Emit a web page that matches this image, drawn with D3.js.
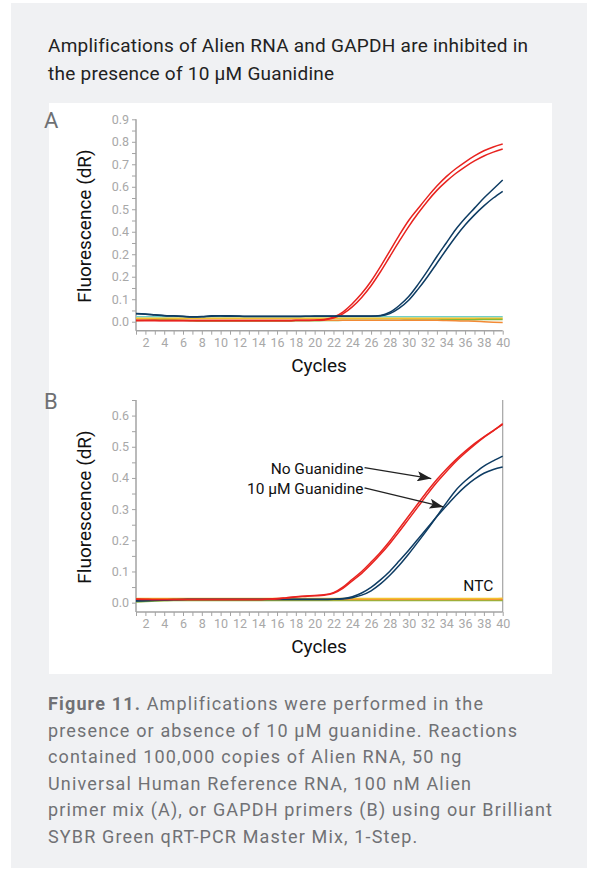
<!DOCTYPE html>
<html>
<head>
<meta charset="utf-8">
<script src="https://cdn.jsdelivr.net/npm/d3@7"></script>
<style>
  body { margin: 0; background: #fff; }
  svg { display: block; font-family: Roboto, "Open Sans", sans-serif; }
</style>
</head>
<body>
<svg id="fig" width="589" height="869"></svg>
<script>
// cycles 1..40
var cycles = d3.range(1, 41);
var xTickLabels = ["2","4","6","8","10","12","14","16","18","20","22","24","26","28","30","32","34","36","38","40"];

// panel A (Alien RNA)
var yTicksA = [0, 0.1, 0.2, 0.3, 0.4, 0.5, 0.6, 0.7, 0.8, 0.9];
var yLabelsA = ["0.0","0.1","0.2","0.2","0.4","0.5","0.6","0.7","0.8","0.9"];
var redA1 = [0.006,0.006,0.006,0.005,0.005,0.005,0.005,0.005,0.005,0.005,
  0.005,0.005,0.005,0.005,0.005,0.005,0.005,0.006,0.006,0.007,
  0.010,0.020,0.043,0.080,0.125,0.180,0.245,0.315,0.385,0.450,
  0.503,0.555,0.603,0.645,0.680,0.710,0.737,0.760,0.777,0.790];
var redA2 = [0.004,0.004,0.004,0.004,0.004,0.004,0.004,0.004,0.004,0.004,
  0.004,0.004,0.004,0.004,0.004,0.004,0.004,0.005,0.005,0.006,
  0.008,0.016,0.035,0.066,0.108,0.160,0.222,0.290,0.358,0.423,
  0.482,0.536,0.584,0.624,0.659,0.689,0.715,0.737,0.754,0.768];
var blueA1 = [0.036,0.034,0.031,0.028,0.026,0.024,0.022,0.023,0.026,0.027,
  0.026,0.025,0.024,0.024,0.024,0.024,0.024,0.024,0.024,0.025,
  0.025,0.025,0.025,0.025,0.025,0.025,0.028,0.042,0.072,0.112,
  0.166,0.226,0.290,0.350,0.410,0.460,0.505,0.550,0.590,0.630];
var blueA2 = [0.035,0.033,0.030,0.027,0.025,0.023,0.021,0.022,0.024,0.025,
  0.024,0.024,0.023,0.023,0.023,0.023,0.023,0.023,0.024,0.024,
  0.024,0.024,0.024,0.024,0.024,0.024,0.026,0.036,0.060,0.095,
  0.145,0.200,0.260,0.320,0.378,0.430,0.475,0.515,0.550,0.580];
var tealA = [0.022,0.022,0.022,0.022,0.022,0.022,0.022,0.022,0.022,0.022,
  0.022,0.022,0.022,0.022,0.022,0.022,0.022,0.022,0.022,0.022,
  0.022,0.022,0.022,0.022,0.022,0.022,0.022,0.022,0.022,0.022,
  0.022,0.022,0.022,0.022,0.022,0.022,0.022,0.022,0.022,0.022];
var yellowA = [0.015,0.015,0.015,0.015,0.015,0.015,0.015,0.015,0.015,0.015,
  0.015,0.015,0.015,0.015,0.015,0.015,0.015,0.015,0.015,0.015,
  0.015,0.015,0.015,0.015,0.015,0.015,0.015,0.015,0.015,0.015,
  0.015,0.015,0.015,0.015,0.015,0.015,0.015,0.015,0.015,0.015];
var greenA = [0.005,0.007,0.009,0.010,0.009,0.007,0.004,0.003,0.003,0.003,
  0.003,0.003,0.003,0.003,0.003,0.003,0.003,0.004,0.004,0.004,
  0.005,0.005,0.006,0.006,0.006,0.007,0.007,0.007,0.007,0.008,
  0.008,0.008,0.008,0.009,0.009,0.009,0.009,0.010,0.010,0.010];
var orangeA = [0.006,0.006,0.006,0.006,0.006,0.006,0.006,0.006,0.006,0.006,
  0.006,0.006,0.006,0.006,0.006,0.006,0.006,0.006,0.006,0.006,
  0.006,0.006,0.006,0.006,0.006,0.006,0.006,0.006,0.006,0.006,
  0.006,0.006,0.006,0.005,0.004,0.003,0.002,0.000,-0.002,-0.004];

// panel B (GAPDH)
var yTicksB = [0, 0.1, 0.2, 0.3, 0.4, 0.5, 0.6];
var yLabelsB = ["0.0","0.1","0.2","0.3","0.4","0.5","0.6"];
var redB1 = [0.012,0.011,0.010,0.010,0.010,0.010,0.010,0.010,0.010,0.010,
  0.010,0.010,0.010,0.010,0.011,0.013,0.016,0.019,0.021,0.023,
  0.025,0.032,0.050,0.075,0.100,0.130,0.162,0.198,0.238,0.278,
  0.318,0.358,0.395,0.428,0.458,0.485,0.510,0.532,0.552,0.572];
var redB2 = [0.011,0.010,0.010,0.010,0.010,0.010,0.010,0.010,0.010,0.010,
  0.010,0.010,0.010,0.010,0.011,0.012,0.015,0.018,0.020,0.022,
  0.024,0.030,0.046,0.070,0.094,0.123,0.155,0.190,0.228,0.268,
  0.308,0.348,0.386,0.420,0.452,0.480,0.506,0.530,0.551,0.574];
var blueB1 = [0.006,0.007,0.008,0.009,0.010,0.010,0.011,0.011,0.011,0.011,
  0.011,0.011,0.011,0.011,0.011,0.011,0.011,0.011,0.011,0.011,
  0.011,0.011,0.012,0.016,0.024,0.038,0.060,0.088,0.120,0.156,
  0.195,0.235,0.277,0.320,0.360,0.390,0.415,0.438,0.455,0.470];
var blueB2 = [0.005,0.006,0.007,0.008,0.009,0.010,0.010,0.010,0.010,0.010,
  0.010,0.010,0.010,0.010,0.010,0.010,0.010,0.010,0.010,0.010,
  0.010,0.011,0.013,0.019,0.031,0.049,0.073,0.101,0.134,0.168,
  0.204,0.240,0.276,0.310,0.343,0.372,0.396,0.415,0.427,0.435];
var yellowB = [0.013,0.013,0.013,0.013,0.013,0.013,0.013,0.013,0.013,0.013,
  0.013,0.013,0.013,0.013,0.013,0.013,0.013,0.013,0.013,0.013,
  0.013,0.013,0.013,0.013,0.013,0.013,0.013,0.013,0.013,0.013,
  0.013,0.013,0.013,0.013,0.013,0.013,0.013,0.013,0.013,0.014];
var orangeB = [0.010,0.010,0.010,0.010,0.010,0.010,0.010,0.010,0.010,0.010,
  0.010,0.010,0.010,0.010,0.010,0.010,0.010,0.010,0.010,0.010,
  0.010,0.010,0.010,0.010,0.010,0.010,0.010,0.010,0.010,0.010,
  0.010,0.010,0.010,0.010,0.010,0.010,0.010,0.010,0.010,0.010];
var greenB = [0.002,0.004,0.005,0.006,0.007,0.007,0.007,0.007,0.007,0.007,
  0.007,0.007,0.007,0.007,0.007,0.007,0.007,0.007,0.007,0.007,
  0.007,0.007,0.007,0.007,0.007,0.007,0.007,0.007,0.007,0.007,
  0.007,0.007,0.007,0.007,0.007,0.007,0.007,0.007,0.007,0.007];

// annotations in panel B, in data units (cycle, dR)
var notes = [
  { text: "No Guanidine", tx: 25.2, ty: 0.414, ax: 32.4, ay: 0.398 },
  { text: "10 \u00b5M Guanidine", tx: 25.2, ty: 0.349, ax: 33.7, ay: 0.307 }
];

var titleLines = ["Amplifications of Alien RNA and GAPDH are inhibited in",
  "the presence of 10 \u00b5M Guanidine"];
var captionLines = [
  ["Figure 11.", " Amplifications were performed in the"],
  ["", "presence or absence of 10 \u00b5M guanidine. Reactions"],
  ["", "contained 100,000 copies of Alien RNA, 50 ng"],
  ["", "Universal Human Reference RNA, 100 nM Alien"],
  ["", "primer mix (A), or GAPDH primers (B) using our Brilliant"],
  ["", "SYBR Green qRT-PCR Master Mix, 1-Step."]
];

var svg = d3.select("#fig");
var RED = "#e8231f", BLUE = "#0e3c63", TEAL = "#6fd0c8", YEL = "#f2c12e", GRN = "#86b83b", ORG = "#f28a35";
var AX = "#a3a3a3", TICKTXT = "#a8a8a8";

svg.append("rect").attr("x", 11).attr("y", 3).attr("width", 576).attr("height", 865).attr("fill", "#f0f1f3");
svg.append("rect").attr("x", 49).attr("y", 103).attr("width", 503).attr("height", 571).attr("fill", "#fff");

titleLines.forEach(function(t, i) {
  svg.append("text").attr("x", 48).attr("y", 52 + i * 28).attr("font-size", 19)
    .attr("letter-spacing", 0.25).attr("fill", "#222").text(t);
});

var cap = svg.append("g").attr("font-size", 18).attr("letter-spacing", 1.15).attr("fill", "#707175");
captionLines.forEach(function(l, i) {
  var t = cap.append("text").attr("x", 48).attr("y", 710 + i * 26.6);
  if (l[0]) t.append("tspan").attr("font-weight", "bold").text(l[0]);
  t.append("tspan").text(l[1]);
});

function panel(opt) {
  var x = d3.scaleLinear().domain([1, 40]).range([136, 502.7]);
  var y = d3.scaleLinear().domain(opt.yDomain).range(opt.yRange);
  var g = svg.append("g");

  g.append("text").attr("x", 44).attr("y", opt.yRange[1] + 9).attr("font-size", 22)
    .attr("fill", "#6e7073").text(opt.letter);

  // y axis: minor ticks every 0.05, labels on major
  var minor = d3.range(0, opt.yDomain[1] + 0.001, 0.05);
  var yAx = d3.axisLeft(y).tickValues(minor).tickSize(4).tickPadding(3)
    .tickFormat(function(d) {
      var i = opt.yTicks.findIndex(function(t) { return Math.abs(t - d) < 1e-6; });
      return i >= 0 ? opt.yLabels[i] : "";
    });
  var ya = g.append("g").attr("transform", "translate(136,0)").call(yAx);
  ya.select(".domain").remove();
  ya.selectAll(".tick line").attr("stroke", AX);
  ya.selectAll(".tick text").attr("fill", TICKTXT).attr("font-size", 12.5).attr("font-family", "Roboto");
  g.append("line").attr("x1", 136).attr("x2", 136).attr("y1", opt.yRange[1]).attr("y2", opt.yRange[0])
    .attr("stroke", AX).attr("stroke-width", 1.5);
  if (opt.topTick) {
    g.append("line").attr("x1", 132).attr("x2", 136).attr("y1", opt.yRange[1] + 0.5).attr("y2", opt.yRange[1] + 0.5)
      .attr("stroke", AX);
  }

  // x axis
  var xAx = d3.axisBottom(x).tickValues(cycles).tickSize(4).tickPadding(3)
    .tickFormat(function(d) { return xTickLabels.indexOf(String(d)) >= 0 ? String(d) : ""; });
  var xa = g.append("g").attr("transform", "translate(0," + opt.yRange[0] + ")").call(xAx);
  xa.select(".domain").remove();
  xa.selectAll(".tick line").attr("stroke", AX);
  xa.selectAll(".tick text").attr("fill", TICKTXT).attr("font-size", 12.5).attr("font-family", "Roboto");
  g.append("line").attr("x1", 136).attr("x2", 502.7).attr("y1", opt.yRange[0]).attr("y2", opt.yRange[0])
    .attr("stroke", AX).attr("stroke-width", 1.5);
  if (opt.rightBorder) {
    g.append("line").attr("x1", 502.7).attr("x2", 502.7).attr("y1", opt.yRange[1]).attr("y2", opt.yRange[0])
      .attr("stroke", AX).attr("stroke-width", 1.2);
  }

  g.append("text").attr("x", 319).attr("y", opt.yRange[0] + 41).attr("text-anchor", "middle")
    .attr("font-size", 19).attr("fill", "#111").text("Cycles");
  g.append("text").attr("transform", "translate(91," + opt.yMid + ") rotate(-90)")
    .attr("text-anchor", "middle").attr("font-size", 19).attr("fill", "#111").text("Fluorescence (dR)");

  var line = d3.line().x(function(d, i) { return x(cycles[i]); }).y(function(d) { return y(d); })
    .curve(d3.curveMonotoneX);
  opt.series.forEach(function(s) {
    g.append("path").attr("d", line(s.v)).attr("fill", "none").attr("stroke", s.c)
      .attr("stroke-width", s.w || 1.5);
  });
  return { g: g, x: x, y: y };
}

panel({
  letter: "A", yDomain: [-0.04, 0.9], yRange: [330.7, 119.3], yMid: 226,
  yTicks: yTicksA, yLabels: yLabelsA, topTick: false, rightBorder: false,
  series: [
    { v: tealA, c: TEAL }, { v: yellowA, c: YEL }, { v: greenA, c: GRN }, { v: orangeA, c: ORG },
    { v: redA1, c: RED }, { v: redA2, c: RED },
    { v: blueA1, c: BLUE }, { v: blueA2, c: BLUE }
  ]
});

var pB = panel({
  letter: "B", yDomain: [-0.03, 0.65], yRange: [612, 400], yMid: 507,
  yTicks: yTicksB, yLabels: yLabelsB, topTick: true, rightBorder: true,
  series: [
    { v: greenB, c: GRN }, { v: orangeB, c: ORG }, { v: yellowB, c: YEL },
    { v: blueB1, c: BLUE }, { v: blueB2, c: BLUE },
    { v: redB1, c: RED }, { v: redB2, c: RED }
  ]
});

var defs = svg.append("defs");
defs.append("marker").attr("id", "arr").attr("viewBox", "0 0 14 10").attr("refX", 14).attr("refY", 5)
  .attr("markerWidth", 14).attr("markerHeight", 10).attr("markerUnits", "userSpaceOnUse").attr("orient", "auto")
  .append("path").attr("d", "M0,0 L14,5 L0,10 L3,5 Z").attr("fill", "#222");

notes.forEach(function(n) {
  var tx = pB.x(n.tx), ty = pB.y(n.ty);
  pB.g.append("text").attr("x", tx).attr("y", ty).attr("text-anchor", "end")
    .attr("font-size", 15.5).attr("fill", "#111").text(n.text);
  pB.g.append("line").attr("x1", tx + 1).attr("y1", ty - 6).attr("x2", pB.x(n.ax)).attr("y2", pB.y(n.ay))
    .attr("stroke", "#222").attr("stroke-width", 1.3).attr("marker-end", "url(#arr)");
});
pB.g.append("text").attr("x", pB.x(39)).attr("y", pB.y(0.038)).attr("text-anchor", "end")
  .attr("font-size", 15.5).attr("fill", "#111").text("NTC");
</script>
</body>
</html>
